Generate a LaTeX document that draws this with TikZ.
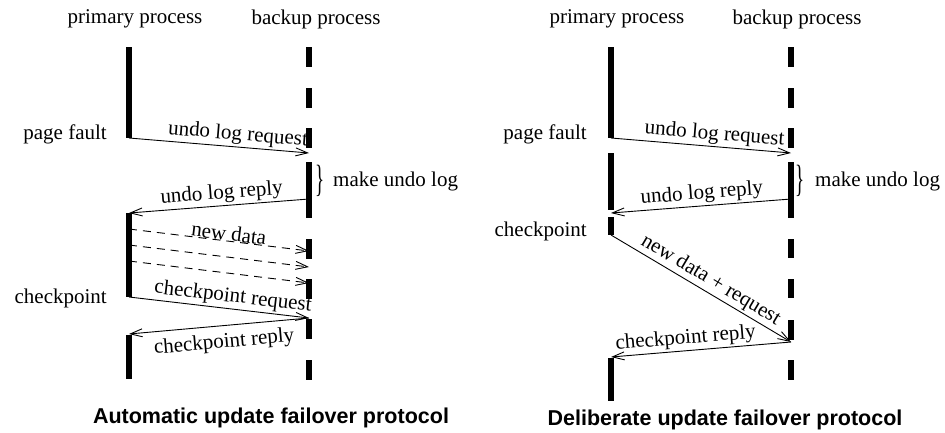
\documentclass[tikz,border=0pt]{standalone}
\usepackage{fontspec}
\setmainfont{Liberation Serif}
\setsansfont{Liberation Sans}
\usetikzlibrary{arrows.meta}

\begin{document}
\begin{tikzpicture}[
  x=1pt, y=-1pt,
  font=\fontsize{21}{24}\selectfont,
  life/.style={line width=5.5pt},
  msg/.style={line width=0.9pt, -{Straight Barb[length=12pt,width=8pt]}},
  data/.style={msg, dash pattern=on 8pt off 6pt},
  lbl/.style={inner sep=2pt},
  brc/.style={inner sep=0pt, font=\fontsize{38}{38}\selectfont},
  title/.style={font=\fontsize{21.5}{24}\selectfont\sffamily\bfseries}
]
\useasboundingbox (0,0) rectangle (945,432);

% automatic update
\node (prim1) at (135,19) {primary process};
\node (back1) at (316,19) {backup process};
\foreach \ya/\yb in {47/138, 213/297, 335/379}
  \draw[life] (129,\ya) -- (129,\yb);
\foreach \ya/\yb in {47/67, 88/108, 128/148, 162/218, 239/259, 279/299, 319/339, 360/380}
  \draw[life] (309,\ya) -- (309,\yb);

\coordinate (a1) at (129,138);
\coordinate (b1) at (309,153);
\coordinate (b2) at (309,199);
\coordinate (a2) at (129,213);
\coordinate (a3) at (129,229);
\coordinate (b3) at (309,251);
\coordinate (a4) at (129,245);
\coordinate (b4) at (309,267);
\coordinate (a5) at (129,261);
\coordinate (b5) at (309,283);
\coordinate (a6) at (129,297);
\coordinate (b6) at (309,318);
\coordinate (a7) at (129,334);

\node[anchor=east, inner sep=0pt] (fault1) at (107,134) {page fault};
\node[anchor=east, inner sep=0pt] (ckpt1) at (107,298) {checkpoint};
\node[brc] (brace1) at (320,181) {\scalebox{0.5}[1]{\}}};
\node[anchor=west, inner sep=0pt] (undo1) at (333,181) {make undo log};

\draw[msg] (a1) -- node[lbl, sloped, above, pos=0.6] {undo log request} (b1);
\draw[msg] (b2) -- node[lbl, sloped, above, pos=0.48] {undo log reply} (a2);
\draw[data] (a3) -- node[sloped, above, pos=0.55, inner sep=0pt] {new data} (b3);
\draw[data] (a4) -- (b4);
\draw[data] (a5) -- (b5);
\draw[msg] (a6) -- node[lbl, sloped, above, pos=0.57] {checkpoint request} (b6);
\draw[msg] (b6) -- node[lbl, sloped, below=5pt, pos=0.48] {checkpoint reply} (a7);

\node[title] (auto) at (271,418) {Automatic update failover protocol};

% deliberate update
\node (prim2) at (617,19) {primary process};
\node (back2) at (797,19) {backup process};
\foreach \ya/\yb in {47/138, 153/210, 217/235, 358/401}
  \draw[life] (611,\ya) -- (611,\yb);
\foreach \ya/\yb in {47/67, 88/108, 128/148, 162/218, 239/258, 279/298, 320/340, 360/380}
  \draw[life] (791,\ya) -- (791,\yb);

\coordinate (c1) at (611,138);
\coordinate (d1) at (791,153);
\coordinate (d2) at (791,199);
\coordinate (c2) at (611,213);
\coordinate (c3) at (611,235);
\coordinate (d3) at (791,342);
\coordinate (c4) at (611,357);

\node[anchor=east, inner sep=0pt] (fault2) at (587,134) {page fault};
\node[anchor=east, inner sep=0pt] (ckpt2) at (587,231) {checkpoint};
\node[brc] (brace2) at (800,181) {\scalebox{0.5}[1]{\}}};
\node[anchor=west, inner sep=0pt] (undo2) at (815,181) {make undo log};

\draw[msg] (c1) -- node[lbl, sloped, above, pos=0.57] {undo log request} (d1);
\draw[msg] (d2) -- node[lbl, sloped, above, pos=0.49] {undo log reply} (c2);
\draw[msg] (c3) -- node[lbl, sloped, above, pos=0.52] {new data + request} (d3);
\draw[msg] (d3) -- node[lbl, sloped, above, pos=0.58] {checkpoint reply} (c4);

\node[title] (delib) at (725,420) {Deliberate update failover protocol};
\end{tikzpicture}
\end{document}
